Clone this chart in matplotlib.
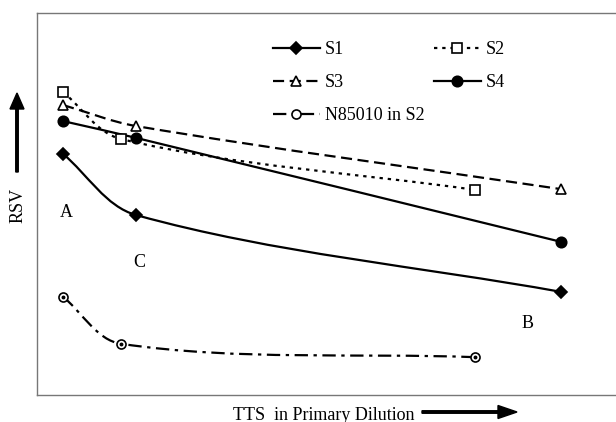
import numpy as np
import matplotlib
matplotlib.use("Agg")
import matplotlib.pyplot as plt
from matplotlib.path import Path
from matplotlib.patches import PathPatch, FancyArrow
from matplotlib.lines import Line2D

plt.rcParams['font.family'] = ['Liberation Serif', 'DejaVu Serif']

# TTS positions (arbitrary units, axis has no ticks)
tts_a = [4.5, 17.1, 90.3]
tts_b = [4.5, 14.5, 75.5]

# RSV values (arbitrary units)
rsv_s1 = [63.1, 47.1, 27.0]
rsv_s2 = [79.3, 67.0, 53.7]
rsv_s3 = [75.9, 70.4, 53.9]
rsv_s4 = [71.7, 67.3, 40.1]
rsv_n85010 = [25.7, 13.4, 9.9]

series_names = ['S1', 'S2', 'S3', 'S4', 'N85010 in S2']

# axes size in pixels, used so the smoothing looks right on screen
AX_W, AX_H = 579.0, 382.0


def smooth_path(x, y):
    # Bezier path through the points, like a spreadsheet "smoothed line"
    sc = np.array([AX_W / 100.0, AX_H / 100.0])
    pts = np.column_stack([x, y]) * sc
    n = len(pts)
    verts = [pts[0]]
    codes = [Path.MOVETO]

    def unit(v):
        return v / np.hypot(*v)

    for i in range(n - 1):
        p1 = pts[i]
        p2 = pts[i + 1]
        seg = np.hypot(*(p2 - p1))
        d1 = unit(p2 - pts[i - 1]) if i > 0 else unit(p2 - p1)
        d2 = unit(pts[i + 2] - p1) if i + 2 < n else unit(p2 - p1)
        c1 = p1 + d1 * seg / 3.0
        c2 = p2 - d2 * seg / 3.0
        verts += [c1, c2, p2]
        codes += [Path.CURVE4] * 3
    return Path(np.array(verts) / sc, codes)


fig = plt.figure(figsize=(6.16, 4.22), dpi=100)
ax = fig.add_axes([37 / 616, 27 / 422, 1 - 37 / 616 + 0.002, 382 / 422])
ax.set_xlim(0, 100)
ax.set_ylim(0, 100)

styles = [
    dict(x=tts_a, y=rsv_s1, ls='-', marker='D', mfc='black', ms=6),
    dict(x=tts_b, y=rsv_s2, ls=(0, (1.5, 2.2)), marker='s', mfc='white', ms=7),
    dict(x=tts_a, y=rsv_s3, ls=(0, (5, 2.5)), marker='^', mfc='white', ms=7.5),
    dict(x=tts_a, y=rsv_s4, ls='-', marker='o', mfc='black', ms=7.5),
    dict(x=tts_b, y=rsv_n85010, ls=(0, (6, 2.5, 1.5, 2.5)), marker='o', mfc='white', ms=6.5),
]

handles = []
for name, st in zip(series_names, styles):
    patch = PathPatch(smooth_path(st['x'], st['y']), fill=False, edgecolor='black',
                      lw=1.6, linestyle=st['ls'], zorder=2)
    ax.add_patch(patch)
    ax.plot(st['x'], st['y'], ls='none', marker=st['marker'], mfc=st['mfc'],
            mec='black', mew=1.2, ms=st['ms'], zorder=3)
    handles.append(Line2D([], [], color='black', lw=1.6, ls=st['ls'], marker=st['marker'],
                          mfc=st['mfc'], mec='black', mew=1.2, ms=st['ms']))

# dot inside the N85010 circles
ax.plot(tts_b, rsv_n85010, ls='none', marker='o', color='black', ms=1.8, zorder=4)

# legend filled column by column: S1, S3, N85010 | S2, S4
order = [0, 2, 4, 1, 3]
ax.legend([handles[i] for i in order], [series_names[i] for i in order], ncol=2,
          frameon=False, fontsize=13, loc='upper left', bbox_to_anchor=(0.378, 0.968),
          handlelength=2.6, handletextpad=0.3, columnspacing=0.5, labelspacing=0.87)

ax.text(5.0, 47.9, 'A', fontsize=13, ha='center', va='center')
ax.text(17.6, 34.8, 'C', fontsize=13, ha='center', va='center')
ax.text(84.6, 18.8, 'B', fontsize=13, ha='center', va='center')

ax.set_xticks([])
ax.set_yticks([])
for side in ['left', 'top', 'bottom', 'right']:
    ax.spines[side].set_color('#777777')
    ax.spines[side].set_linewidth(1.0)

# axis labels with arrows
fig.text(324 / 616, 1 - 415 / 422, 'TTS  in Primary Dilution', fontsize=13,
         ha='center', va='center')
fig.text(18 / 616, 1 - 205 / 422, 'RSV', fontsize=13, rotation=90,
         ha='center', va='center')
fig.patches.append(FancyArrow(
    422 / 616, 1 - 412 / 422, 95 / 616, 0, width=2.5 / 422, head_width=13 / 422,
    head_length=19 / 616, length_includes_head=True, color='black',
    transform=fig.transFigure, figure=fig))
fig.patches.append(FancyArrow(
    17 / 616, 1 - 172 / 422, 0, 79 / 422, width=2.5 / 616, head_width=14 / 616,
    head_length=16 / 422, length_includes_head=True, color='black',
    transform=fig.transFigure, figure=fig))

fig.savefig('out.png', dpi=100)
